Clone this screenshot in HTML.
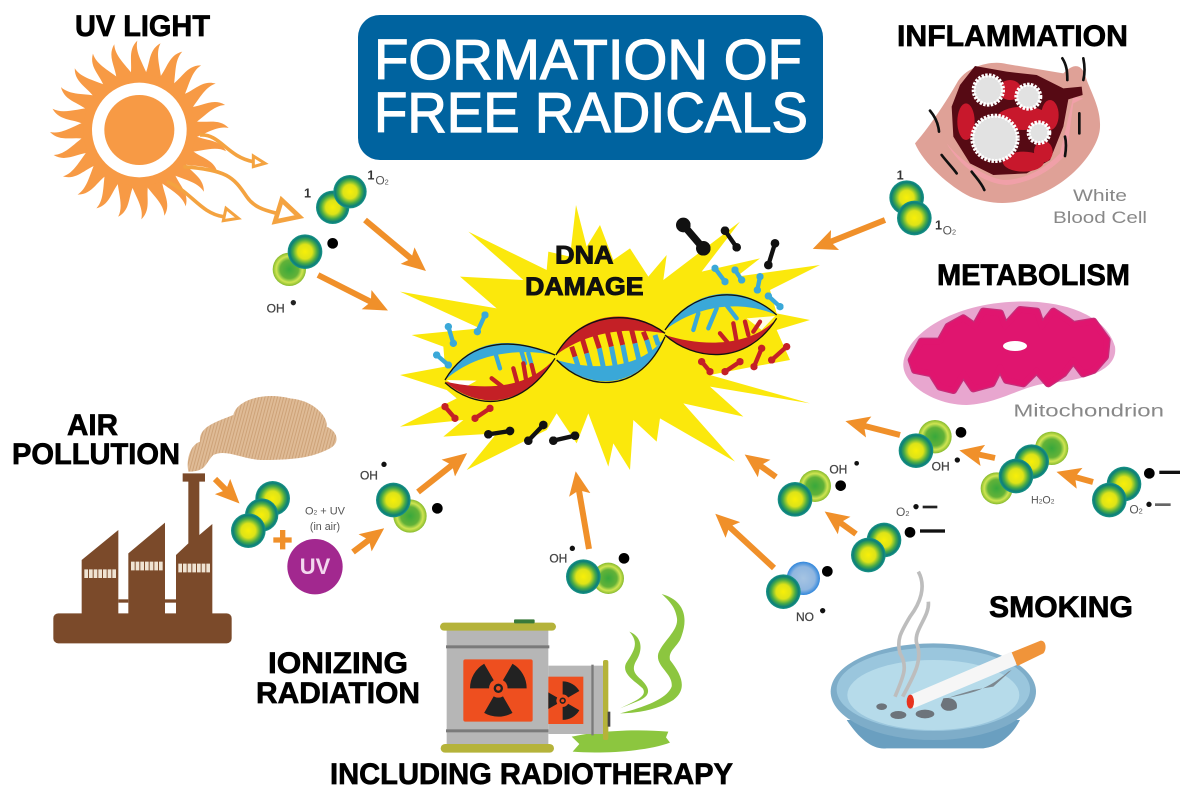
<!DOCTYPE html>
<html><head><meta charset="utf-8"><title>Formation of Free Radicals</title>
<style>
html,body{margin:0;padding:0;background:#fff;width:1200px;height:800px;overflow:hidden}
svg{display:block}
text{font-family:"Liberation Sans",sans-serif}
.h{font-weight:bold;font-size:30px;fill:#000;stroke:#000;stroke-width:.7px}
.s{fill:#444;font-size:36px;stroke:#444;stroke-width:.8px}
</style></head><body>
<svg xmlns="http://www.w3.org/2000/svg" width="1200" height="800" viewBox="0 0 1200 800">
<defs>
<radialGradient id="d"><stop offset="0" stop-color="#f8ef08"/><stop offset=".42" stop-color="#dde318"/><stop offset=".7" stop-color="#45a848"/><stop offset=".88" stop-color="#0c7f78"/><stop offset="1" stop-color="#1a9488"/></radialGradient>
<radialGradient id="l"><stop offset="0" stop-color="#38a83c"/><stop offset=".55" stop-color="#62b238"/><stop offset=".78" stop-color="#cfe552"/><stop offset="1" stop-color="#86ba2e"/></radialGradient>
<radialGradient id="b"><stop offset="0" stop-color="#a6c4e2"/><stop offset=".7" stop-color="#8fb6e0"/><stop offset="1" stop-color="#2f86dc"/></radialGradient>
<marker id="a" viewBox="0 0 4 4" markerWidth="4" markerHeight="4" refX="2.7" refY="2" orient="auto" markerUnits="strokeWidth"><path d="M0,.2L4,2L0,3.8L.8,2Z" fill="#f0902a"/></marker>
<marker id="bk" viewBox="-2 -2 4 4" markerWidth="2" markerHeight="2" markerUnits="strokeWidth"><circle r="2" fill="#111"/></marker>
<marker id="bl" viewBox="-2 -2 4 4" markerWidth="1.7" markerHeight="1.7" markerUnits="strokeWidth"><circle r="2" fill="#3aa8d8"/></marker>
<marker id="rd" viewBox="-2 -2 4 4" markerWidth="1.7" markerHeight="1.7" markerUnits="strokeWidth"><circle r="2" fill="#c42026"/></marker>
<pattern id="st" width="9" height="12" patternUnits="userSpaceOnUse" patternTransform="rotate(15)"><rect width="9" height="12" fill="#dfbb96"/><rect width="3" height="12" fill="#cda278"/></pattern>
<path id="ray" d="M-30,-150C-15,-195-40,-235-6,-268C-14,-232 12,-200 30,-150Z" fill="#f79a45"/>
<g id="rad"><path id="w" d="M-14,24L-42.5,73.6A85,85 0 0 0 42.5,73.6L14,24A28,28 0 0 1-14,24Z" fill="#222"/><use href="#w" transform="rotate(120)"/><use href="#w" transform="rotate(240)"/><circle r="14" fill="#222"/><circle r="7" fill="#ee4f1f"/></g>
<clipPath id="cl"><rect x="385" y="470" width="105" height="142"/></clipPath>
<path id="mito" d="M155,960L185,905L240,905L265,860L310,835L345,860L370,815L420,820L435,860L480,810L530,815L545,860L580,815L620,840L640,855L700,845L740,900L735,950L700,990L670,1000L640,960L610,1000L565,1030L530,990L490,1030L440,1020L420,980L395,1030L340,1045L310,1000L280,1050L240,1040L215,1000L165,990Z"/>
</defs>
<rect width="1200" height="800" fill="#fff"/>

<!-- burst + DNA -->
<g transform="translate(400,190) scale(.33333)">
<path fill="#fbe80c" d="M528,45L560,170L600,105L640,210L690,175L745,260L800,195L790,270L1020,95L905,245L1080,205L1010,260L1260,225L1110,300L1130,370L1230,390L1130,420L1170,510L1060,530L930,555L1230,640L930,590L1030,680L850,640L1005,815L780,685L770,755L700,690L690,840L640,760L625,830L565,670L530,760L470,670L440,720L200,840L290,730L130,740L190,690L0,710L170,625L140,600L0,555L135,530L130,470L35,435L240,415L0,305L290,355L180,260L370,270L205,125L440,240L445,185L510,200Z"/>
<path fill="#fff" d="M140,570L230,572L180,600Z"/>
<path fill="#fff" d="M1040,385L1125,378L1085,420Z" opacity=".9"/>
<g fill="none" stroke-linecap="round" stroke-width="13">
<g stroke="#3aa8d8"><path d="M280,470L300,535M360,470L375,520M385,490L395,525M895,370L880,420M950,355L925,415M975,340L1010,385"/></g>
<g stroke="#c42026"><path d="M275,565L320,600M340,535L355,590M370,520L380,580M395,525L405,565M960,430L985,460M1000,400L1010,455M1035,395L1045,435M1080,395L1060,425"/></g>
<g stroke-width="15" stroke-linecap="butt">
<path stroke="#c42026" d="M515,470L525,500M545,440L560,490M580,420L598,475M618,410L634,470M655,415L668,465M695,420L705,460M730,425L740,450"/>
<path stroke="#3aa8d8" d="M525,500L538,540M560,490L575,545M598,475L615,555M634,470L650,550M668,465L682,535M705,460L718,515M740,450L752,490M765,435L775,465"/>
</g>
</g>
<path fill="#3aa8d8" d="M135,570C190,470 300,420 465,495C340,472 220,495 135,570Z"/>
<path fill="#c42026" d="M135,575C220,650 360,670 465,505C380,600 250,600 135,575Z"/>
<path fill="#c42026" d="M468,495C540,360 700,350 795,430C690,412 570,420 468,495Z"/>
<path fill="#3aa8d8" d="M470,510C560,600 720,610 795,440C730,535 590,545 470,510Z"/>
<path fill="#3aa8d8" d="M795,420C870,300 1020,270 1130,375C1030,332 900,340 795,420Z"/>
<path fill="#c42026" d="M795,435C880,510 1040,530 1130,385C1060,465 920,475 795,435Z"/>
<g fill="none" stroke="#111" stroke-width="4">
<path d="M135,570C190,475 300,425 465,495M135,578C220,655 360,672 465,505M468,495C540,365 700,355 795,430M470,510C560,605 720,615 795,440M795,420C870,305 1020,275 1130,375M795,435C880,512 1040,530 1130,385"/>
</g>
<g fill="none" stroke-linecap="round">
<g stroke="#111" stroke-width="13" marker-start="url(#bk)" marker-mid="url(#bk)" marker-end="url(#bk)"><path d="M975,122L1010,172"/><path d="M1125,160L1105,225"/><path d="M265,733L330,723"/><path d="M430,705L385,752"/><path d="M525,737L460,752"/></g>
<path stroke="#111" stroke-width="22" marker-start="url(#bk)" marker-end="url(#bk)" d="M850,105L910,175"/>
<g stroke="#3aa8d8" stroke-width="13" marker-start="url(#bl)" marker-end="url(#bl)"><path d="M145,410L160,460"/><path d="M255,375L232,425"/><path d="M110,495L145,525"/><path d="M945,235L975,275"/><path d="M1005,240L1025,270"/><path d="M1080,260L1072,300"/><path d="M1105,318L1140,350"/></g>
<g stroke="#c42026" stroke-width="13" marker-start="url(#rd)" marker-end="url(#rd)"><path d="M135,650L165,685"/><path d="M270,655L225,685"/><path d="M905,515L930,545"/><path d="M1020,515L975,545"/><path d="M1085,475L1062,530"/><path d="M1160,470L1115,510"/></g>
</g>
<text x="553" y="220" text-anchor="middle" font-size="75" font-weight="bold" fill="#111" stroke="#111" stroke-width="3" textLength="175" lengthAdjust="spacingAndGlyphs">DNA</text>
<text x="553" y="315" text-anchor="middle" font-size="75" font-weight="bold" fill="#111" stroke="#111" stroke-width="3" textLength="355" lengthAdjust="spacingAndGlyphs">DAMAGE</text>
</g>

<!-- title -->
<rect x="358" y="15" width="465" height="145" rx="22" fill="#00639f"/>
<text x="374" y="79" font-size="57" fill="#fff" stroke="#fff" stroke-width="1.2" textLength="428" lengthAdjust="spacingAndGlyphs">FORMATION OF</text>
<text x="374" y="132" font-size="57" fill="#fff" stroke="#fff" stroke-width="1.2" textLength="434" lengthAdjust="spacingAndGlyphs">FREE RADICALS</text>

<!-- sun and molecules top-left -->
<g transform="translate(20,0) scale(.33333)">
<g transform="translate(358,390)">
<use href="#ray"/><use href="#ray" transform="rotate(15)"/><use href="#ray" transform="rotate(30)"/><use href="#ray" transform="rotate(45)"/><use href="#ray" transform="rotate(60)"/><use href="#ray" transform="rotate(75)"/><use href="#ray" transform="rotate(90)"/><use href="#ray" transform="rotate(105)"/><use href="#ray" transform="rotate(120)"/><use href="#ray" transform="rotate(135)"/><use href="#ray" transform="rotate(150)"/><use href="#ray" transform="rotate(165)"/><use href="#ray" transform="rotate(180)"/><use href="#ray" transform="rotate(195)"/><use href="#ray" transform="rotate(210)"/><use href="#ray" transform="rotate(225)"/><use href="#ray" transform="rotate(240)"/><use href="#ray" transform="rotate(255)"/><use href="#ray" transform="rotate(270)"/><use href="#ray" transform="rotate(285)"/><use href="#ray" transform="rotate(300)"/><use href="#ray" transform="rotate(315)"/><use href="#ray" transform="rotate(330)"/><use href="#ray" transform="rotate(345)"/>
<circle r="168" fill="#f79a45"/><circle r="142" fill="#fff"/><circle r="105" fill="#f79a45"/>
</g>
<g fill="none" stroke="#f4a340" stroke-width="11">
<path d="M540,405C600,400 620,470 700,485"/>
<path d="M490,500C620,510 640,530 680,590C700,620 730,630 770,640"/>
<path d="M440,545C510,570 540,640 610,650"/>
<path stroke-width="9" d="M700,468L735,490L700,500Z"/>
<path stroke-width="14" d="M785,600L838,650L765,665Z"/>
<path stroke-width="9" d="M618,625L655,655L610,662Z"/>
</g>
<circle cx="938" cy="622" r="50" fill="url(#d)"/><circle cx="990" cy="575" r="50" fill="url(#d)"/>
<circle cx="808" cy="808" r="50" fill="url(#l)"/><circle cx="855" cy="755" r="52" fill="url(#d)"/>
<circle cx="938" cy="730" r="16" fill="#000"/>
<text x="852" y="592" font-size="38" font-weight="bold" fill="#333">1</text>
<text x="1042" y="538" font-size="38" font-weight="bold" fill="#333">1</text>
<text x="1066" y="554" font-size="36" fill="#555">O<tspan font-size="22">2</tspan></text>
<text x="740" y="938" class="s" font-size="34">OH</text><circle cx="820" cy="908" r="8" fill="#222"/>
</g>

<!-- air pollution -->
<g transform="translate(30,380) scale(.33333)">
<path fill="url(#st)" d="M475,275C468,240 480,195 510,185C505,140 560,125 610,105C620,60 700,35 780,55C850,60 895,110 890,140C925,155 930,190 900,205C860,225 820,240 700,240C640,240 590,205 550,225C525,250 530,275 475,275Z"/>
<g fill="#7b4a2a">
<rect x="70" y="700" width="535" height="90" rx="15"/>
<path d="M155,705V540L265,450V705Z"/><path d="M295,705V520L405,428V705Z"/><path d="M438,705V525L475,490V305H458V280H525V305H508V465L547,432V705Z"/>
<rect x="265" y="658" width="30" height="10"/><rect x="405" y="658" width="33" height="10"/>
</g>
<g fill="none" stroke="#efe3d2" stroke-width="26" stroke-dasharray="11 3"><path d="M163,581H261M303,558H398M445,564H542"/></g>
<circle cx="728" cy="355" r="52" fill="url(#d)"/><circle cx="695" cy="405" r="50" fill="url(#d)"/><circle cx="655" cy="452" r="52" fill="url(#d)"/>
<path d="M758,450V508M730,480H785" stroke="#f0902a" stroke-width="16" fill="none"/>
<circle cx="855" cy="560" r="83" fill="#a2288f"/>
<text x="855" y="582" text-anchor="middle" font-size="66" font-weight="bold" fill="#f3d7ee">UV</text>
<text x="885" y="403" text-anchor="middle" font-size="33" fill="#555">O<tspan font-size="20">2</tspan> + UV</text>
<text x="885" y="450" text-anchor="middle" font-size="32" fill="#555">(in air)</text>
<circle cx="1140" cy="408" r="50" fill="url(#l)"/><circle cx="1090" cy="360" r="52" fill="url(#d)"/>
<circle cx="1222" cy="385" r="16" fill="#000"/><circle cx="1062" cy="253" r="8" fill="#111"/>
<text x="990" y="298" class="s">OH</text>
</g>

<!-- radiation -->
<g transform="translate(420,520) scale(.33333)">
<path fill="#8cc63f" d="M455,650C520,635 640,625 745,635L738,652L750,668C680,695 540,702 458,695L478,672Z"/>
<path fill="#8cc63f" d="M725,222C790,240 810,290 780,360C765,385 745,395 750,420C790,470 800,510 760,540C720,565 660,580 600,580C660,565 740,540 755,500C760,460 705,440 715,400C730,360 780,330 770,290C765,260 745,240 725,222Z"/>
<path fill="#8cc63f" d="M628,335C665,350 670,385 650,420C635,445 640,460 665,480C695,510 690,530 650,545L600,565C640,545 685,530 668,505C640,480 605,460 618,430C640,395 660,370 628,335Z"/>
<rect x="80" y="330" width="305" height="345" fill="#b6b6b6"/>
<rect x="60" y="308" width="348" height="24" rx="12" fill="#b5b33a"/>
<rect x="62" y="672" width="340" height="26" rx="13" fill="#b5b33a"/>
<rect x="282" y="298" width="62" height="12" rx="3" fill="#3a7a3a"/>
<rect x="78" y="376" width="310" height="9" fill="#7a7a7a"/><rect x="78" y="628" width="310" height="9" fill="#7a7a7a"/>
<rect x="130" y="418" width="208" height="187" rx="6" fill="#ee4f1f"/>
<use href="#rad" transform="translate(235,505)"/>
<rect x="385" y="437" width="165" height="205" fill="#b6b6b6"/>
<rect x="514" y="434" width="7" height="212" fill="#7a7a7a"/>
<rect x="385" y="470" width="105" height="142" fill="#ee4f1f"/>
<g clip-path="url(#cl)"><use href="#rad" transform="translate(428,542) rotate(90) scale(.68)"/></g>
<rect x="549" y="420" width="16" height="240" rx="6" fill="#b5b33a"/>
<rect x="563" y="575" width="8" height="45" fill="#444"/>
<circle cx="565" cy="175" r="47" fill="url(#l)"/><circle cx="490" cy="170" r="52" fill="url(#d)"/>
<circle cx="612" cy="115" r="16" fill="#000"/><circle cx="457" cy="85" r="8" fill="#111"/>
<text x="388" y="128" class="s">OH</text>
</g>

<!-- inflammation -->
<g transform="translate(860,40) scale(.33333)">
<path fill="#dfa197" d="M165,310C200,270 250,200 290,130C320,75 400,60 440,72L610,100C650,60 670,80 680,120C700,170 722,210 720,260C720,320 640,430 520,470C450,500 380,490 330,470C270,440 190,370 165,310Z"/>
<path fill="#f0a0a8" d="M260,310C300,380 370,430 440,435C500,430 570,400 620,340L640,190L670,175L640,170L600,340C550,390 490,420 430,420C370,410 300,360 260,310Z"/>
<path fill="#560a14" d="M345,78L440,95L530,105L610,145L665,140L668,165L625,178L610,260L570,360L500,400L400,405L330,370L280,290L275,200L300,135Z"/>
<g fill="#c8182c"><ellipse cx="450" cy="150" rx="34" ry="30"/><ellipse cx="318" cy="245" rx="26" ry="55"/><ellipse cx="490" cy="235" rx="80" ry="35"/><ellipse cx="490" cy="365" rx="62" ry="30"/><ellipse cx="570" cy="225" rx="26" ry="45"/><ellipse cx="550" cy="335" rx="28" ry="32"/></g>
<g fill="#e2e2e2" stroke="#fff" stroke-width="12" stroke-dasharray="7 4"><circle cx="385" cy="150" r="44"/><circle cx="505" cy="170" r="36"/><circle cx="405" cy="295" r="68"/><circle cx="537" cy="278" r="31"/></g>
<g fill="none" stroke="#111" stroke-width="8" stroke-linecap="round"><path d="M607,55C620,75 622,95 622,120M670,55C675,80 675,100 670,120M658,220V280M615,290C620,310 618,330 615,348M210,212C225,230 235,250 237,275M245,345C260,365 280,385 290,400M335,395C350,415 365,430 373,450"/></g>
<text x="720" y="483" text-anchor="middle" font-size="50" fill="#888" textLength="162" lengthAdjust="spacingAndGlyphs">White</text>
<text x="720" y="549" text-anchor="middle" font-size="50" fill="#888" textLength="282" lengthAdjust="spacingAndGlyphs">Blood Cell</text>
<circle cx="140" cy="473" r="52" fill="url(#d)"/><circle cx="163" cy="534" r="52" fill="url(#d)"/>
<text x="110" y="418" font-size="38" font-weight="bold" fill="#333">1</text>
<text x="225" y="568" font-size="38" font-weight="bold" fill="#333">1</text>
<text x="248" y="583" font-size="36" fill="#555">O<tspan font-size="22">2</tspan></text>
<!-- mitochondrion -->
<path fill="#e8a6cf" d="M130,970C140,880 280,790 470,785C620,780 740,830 765,920C775,990 680,1020 560,1030C480,1040 420,1090 320,1095C220,1095 125,1030 130,970Z"/>
<use href="#mito" fill="#c72b78" stroke="#c72b78" stroke-width="24" stroke-linejoin="round"/>
<use href="#mito" fill="#e0156f" stroke="#e0156f" stroke-width="16" stroke-linejoin="round"/>
<ellipse cx="465" cy="918" rx="36" ry="15" fill="#fff"/>
<text x="460" y="1130" font-size="52" fill="#888" textLength="452" lengthAdjust="spacingAndGlyphs">Mitochondrion</text>
</g>

<!-- right molecules & ashtray -->
<g transform="translate(700,400) scale(.33333)">
<circle cx="705" cy="110" r="50" fill="url(#l)"/><circle cx="648" cy="152" r="52" fill="url(#d)"/>
<circle cx="783" cy="97" r="16" fill="#000"/>
<text x="695" y="212" class="s">OH</text><circle cx="772" cy="180" r="8" fill="#111"/>
<circle cx="1055" cy="145" r="50" fill="url(#l)"/><circle cx="890" cy="265" r="48" fill="url(#l)"/>
<circle cx="995" cy="185" r="52" fill="url(#d)"/><circle cx="948" cy="228" r="52" fill="url(#d)"/>
<text x="993" y="310" font-size="32" fill="#555">H<tspan font-size="20">2</tspan>O<tspan font-size="20">2</tspan></text>
<circle cx="1272" cy="252" r="52" fill="url(#d)"/><circle cx="1228" cy="300" r="52" fill="url(#d)"/>
<circle cx="1348" cy="220" r="16" fill="#000"/><rect x="1378" y="212" width="62" height="10" fill="#111"/>
<text x="1288" y="340" font-size="36" fill="#555">O<tspan font-size="22">2</tspan></text><circle cx="1347" cy="313" r="8" fill="#111"/><rect x="1365" y="310" width="47" height="8" fill="#666"/>
<circle cx="345" cy="258" r="48" fill="url(#l)"/><circle cx="285" cy="298" r="52" fill="url(#d)"/>
<text x="388" y="220" class="s">OH</text><circle cx="470" cy="190" r="7" fill="#111"/>
<circle cx="422" cy="257" r="16" fill="#000"/>
<circle cx="552" cy="420" r="52" fill="url(#d)"/><circle cx="505" cy="465" r="52" fill="url(#d)"/>
<text x="588" y="348" font-size="36" fill="#555">O<tspan font-size="22">2</tspan></text><circle cx="648" cy="320" r="8" fill="#111"/><rect x="668" y="317" width="44" height="8" fill="#222"/>
<circle cx="630" cy="397" r="16" fill="#000"/><rect x="660" y="388" width="75" height="10" fill="#111"/>
<circle cx="310" cy="535" r="50" fill="url(#b)"/><circle cx="250" cy="575" r="52" fill="url(#d)"/>
<circle cx="382" cy="514" r="16" fill="#000"/>
<text x="288" y="663" class="s" font-size="34">NO</text><circle cx="368" cy="632" r="8" fill="#111"/>
<!-- ashtray -->
<path d="M440,960C480,1020 520,1050 560,1045H850C900,1040 940,1000 960,960Z" fill="#6a9fc0"/>
<ellipse cx="700" cy="875" rx="308" ry="145" fill="#7eadc9"/>
<ellipse cx="700" cy="868" rx="290" ry="125" fill="#9ac6dd"/>
<ellipse cx="700" cy="885" rx="258" ry="105" fill="#b6dbea"/>
<path d="M740,895C800,880 850,880 925,815L935,810L880,860L820,870L770,885Z" fill="#7d8890"/>
<path d="M730,895C760,890 775,905 770,925C745,940 725,930 722,915Z" fill="#6d747b"/>
<g fill="#6d747b"><ellipse cx="545" cy="920" rx="16" ry="10"/><ellipse cx="595" cy="945" rx="24" ry="12"/><ellipse cx="675" cy="942" rx="28" ry="13"/></g>
<path d="M630,885L935,755L950,795L640,925Z" fill="#f6f6f6"/>
<path d="M935,757L1022,722C1040,722 1040,750 1030,760L952,798Z" fill="#f0943a"/>
<ellipse cx="631" cy="905" rx="11" ry="21" fill="#e8331f"/>
<g fill="none" stroke="#bdbdbd" stroke-width="11"><path d="M655,515C680,560 660,610 630,650C600,700 590,720 600,760C625,800 610,830 585,890"/><path d="M685,605C690,650 640,690 650,730C670,780 640,830 608,890"/></g>
</g>

<!-- orange arrows -->
<g fill="none" stroke="#f0902a" stroke-width="6">
<line x1="365" y1="220" x2="420" y2="266" marker-end="url(#a)"/>
<line x1="318" y1="275" x2="381" y2="307" marker-end="url(#a)"/>
<line x1="885" y1="220" x2="820" y2="246" marker-end="url(#a)"/>
<line x1="215" y1="479" x2="234" y2="498" marker-end="url(#a)"/>
<line x1="353" y1="552" x2="378" y2="533" marker-end="url(#a)"/>
<line x1="418" y1="492" x2="461" y2="458" marker-end="url(#a)"/>
<line x1="589" y1="549" x2="577" y2="479" marker-end="url(#a)"/>
<line x1="774" y1="568" x2="721" y2="519" marker-end="url(#a)"/>
<line x1="856" y1="534" x2="831" y2="516" marker-end="url(#a)"/>
<line x1="776" y1="477" x2="751" y2="459" marker-end="url(#a)"/>
<line x1="900" y1="435" x2="853" y2="423" marker-end="url(#a)"/>
<line x1="995" y1="458" x2="967" y2="452" marker-end="url(#a)"/>
<line x1="1093" y1="482" x2="1064" y2="474" marker-end="url(#a)"/>
</g>

<!-- headings -->
<text class="h" x="75" y="36" textLength="135" lengthAdjust="spacingAndGlyphs">UV LIGHT</text>
<text class="h" x="897" y="46" textLength="231" lengthAdjust="spacingAndGlyphs">INFLAMMATION</text>
<text class="h" x="937" y="285" textLength="193" lengthAdjust="spacingAndGlyphs">METABOLISM</text>
<text class="h" x="67" y="435" textLength="51" lengthAdjust="spacingAndGlyphs">AIR</text>
<text class="h" x="12" y="464" textLength="168" lengthAdjust="spacingAndGlyphs">POLLUTION</text>
<text class="h" x="268" y="673" textLength="140" lengthAdjust="spacingAndGlyphs">IONIZING</text>
<text class="h" x="256" y="703" textLength="164" lengthAdjust="spacingAndGlyphs">RADIATION</text>
<text class="h" x="330" y="784" textLength="403" lengthAdjust="spacingAndGlyphs">INCLUDING RADIOTHERAPY</text>
<text class="h" x="989" y="617" textLength="144" lengthAdjust="spacingAndGlyphs">SMOKING</text>
</svg>
</body></html>
